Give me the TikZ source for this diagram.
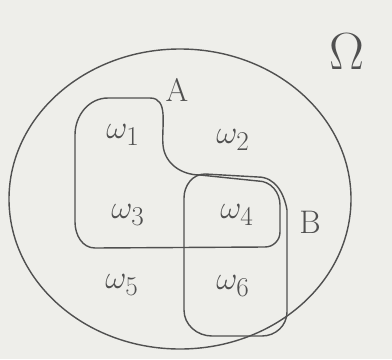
\documentclass[tikz,border=0pt]{standalone}
\usepackage{tikz}
\definecolor{paper}{RGB}{238,238,234}
\definecolor{pencil}{RGB}{80,80,80}
\begin{document}
\begin{tikzpicture}
[x=0.03cm, y=-0.03cm, set line/.style={draw=pencil,line width=1.2pt},
elem/.style={text=pencil,font=\Huge,scale=1.12,transform shape},
set name/.style={text=pencil,font=\Huge,scale=1.12,transform shape}]
\fill[paper] (0,0) rectangle (392,359);
\useasboundingbox (0,0) rectangle (392,359);

\draw[set line] (180,199) ellipse (171 and 150);

% set A
\draw[set line] (108,98) -- (150,98) to[out=0,in=95] (163,145)
  to[out=-85,in=180] (200,175) -- (258,181) to[out=0,in=90] (280,205)
  -- (280,232) to[out=-90,in=0] (265,247) -- (95,248)
  to[out=180,in=-90] (75,222) -- (75,135) to[out=90,in=180] (108,98) -- cycle;
% set B
\draw[set line] (205,174) -- (258,177) to[out=0,in=100] (287,210)
  -- (287,312) to[out=-90,in=0] (262,336) -- (212,336)
  to[out=180,in=-90] (184,310) -- (184,198) to[out=90,in=180] (205,174) -- cycle;

\node[set name, scale=1.6] (omega) at (347,52) {$\Omega$};
\node[set name] (a) at (177,90) {A};
\node[set name] (b) at (310,222) {B};

\node[elem] (w1) at (123,135) {$\omega_1$};
\node[elem] (w2) at (233,140) {$\omega_2$};
\node[elem] (w3) at (128,215) {$\omega_3$};
\node[elem] (w4) at (237,215) {$\omega_4$};
\node[elem] (w5) at (122,285) {$\omega_5$};
\node[elem] (w6) at (233,286) {$\omega_6$};
\end{tikzpicture}
\end{document}
